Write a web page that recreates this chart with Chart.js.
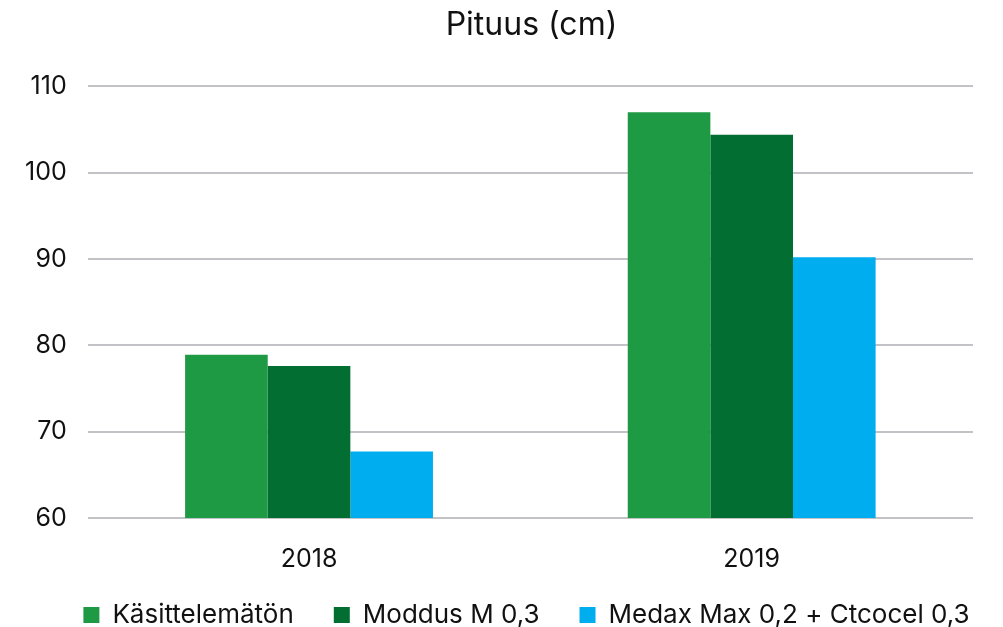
<!DOCTYPE html>
<html>
<head>
  <meta charset="UTF-8">
  <title>Pituus (cm)</title>
  <script src="https://cdn.jsdelivr.net/npm/chart.js"></script>
  <style>
    body { margin: 0; background: #fff; }
    #wrap { width: 1003px; height: 627px; }
  </style>
</head>
<body>
  <div id="wrap"><canvas id="myChart"></canvas></div>
  <script>
    const years = ['2018', '2019'];
    const seriesNames = ['Käsittelemätön', 'Moddus M 0,3', 'Medax Max 0,2 + Ctcocel 0,3'];
    const untreated = [78.9, 107.0];
    const moddus = [77.6, 104.4];
    const medax = [67.7, 90.2];
    const yTicks = [60, 70, 80, 90, 100, 110];
    const colors = ['#1e9a45', '#026e31', '#00aeef'];

    const font = 'Inter, "Noto Sans", sans-serif';

    // draw a layout box moved by dx, dy without changing the layout
    function nudge(box, dx, dy) {
      const draw = box.draw;
      box.draw = function () {
        this.left += dx; this.right += dx; this.top += dy;
        draw.call(this);
        this.left -= dx; this.right -= dx; this.top -= dy;
      };
    }

    // legend: one row across the full width, tucked closer to the axis labels;
    // title centred over the plot area
    const boxShift = {
      id: 'boxShift',
      beforeInit(chart) {
        const legend = chart.legend;
        const fit = legend.fit;
        legend.fit = function () {
          this.maxWidth = chart.width;
          fit.call(this);
          this.height -= 41;
        };
        nudge(legend, 38, -30);
        nudge(chart.titleBlock, 43, 0);
      }
    };

    new Chart(document.getElementById('myChart'), {
      type: 'bar',
      data: {
        labels: years,
        datasets: [untreated, moddus, medax].map((d, i) => ({
          label: seriesNames[i],
          data: d,
          backgroundColor: colors[i],
          borderWidth: 0,
          categoryPercentage: 0.56,
          barPercentage: 1.0
        }))
      },
      options: {
        responsive: true,
        maintainAspectRatio: false,
        animation: false,
        layout: { padding: { left: 4, right: 30, top: 4, bottom: 0 } },
        plugins: {
          title: {
            display: true,
            text: 'Pituus (cm)',
            color: '#111',
            font: { family: font, size: 32, weight: 'normal' },
            padding: { top: 2, bottom: 42 }
          },
          legend: {
            position: 'bottom',
            labels: {
              color: '#111',
              font: { family: font, size: 26 },
              boxWidth: 16,
              boxHeight: 16,
              padding: 40
            }
          },
          tooltip: { enabled: false }
        },
        scales: {
          x: {
            grid: { display: false },
            border: { display: false },
            ticks: { color: '#111', font: { family: font, size: 25 }, padding: 18 }
          },
          y: {
            min: yTicks[0],
            max: yTicks[yTicks.length - 1],
            afterBuildTicks: axis => { axis.ticks = yTicks.map(v => ({ value: v })); },
            grid: { color: '#c3c3c7', lineWidth: 2, drawTicks: false },
            border: { display: false },
            ticks: { color: '#111', font: { family: font, size: 25 }, padding: 21 }
          }
        }
      },
      plugins: [boxShift]
    });
  </script>
</body>
</html>
